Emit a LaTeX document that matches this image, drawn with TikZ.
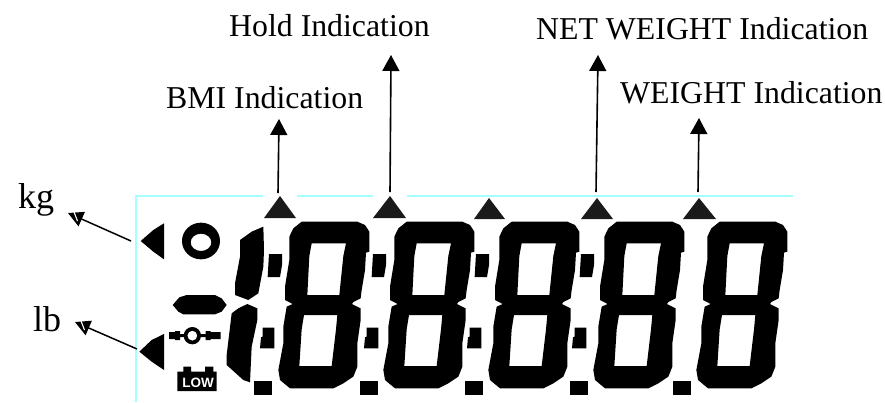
\documentclass[tikz,border=0pt]{standalone}
\usepackage{fontspec}
\setmainfont{Liberation Serif}
\newfontfamily\lowfont{Liberation Sans}
\usetikzlibrary{arrows.meta}
\definecolor{lcdcyan}{HTML}{A6FFFF}
\definecolor{tridark}{HTML}{1A1A1A}
\tikzset{
  lbl/.style={anchor=base west,inner sep=0pt,font=\fontsize{31.8}{36}\selectfont},
  unit/.style={anchor=base west,inner sep=0pt,font=\fontsize{36}{40}\selectfont},
  upline/.style={line width=1.6pt,-{Triangle[length=16pt,width=17pt]}},
  leftline/.style={line width=1.5pt,-{Triangle[length=15pt,width=15.5pt]}},
  notch/.style={white,line width=1.1pt},
  frame/.style={lcdcyan,line width=1.5pt},
  zoomed/.style={x=0.33333pt,y=-0.33333pt},
  tri/.style={fill=tridark,draw=none},
  seg/.style={fill=black,draw=none}
}
\newcommand{\digitshape}[1]{%
\begin{scope}[shift={(120+#1,180)},zoomed]
\fill[seg,even odd rule]
 (545,125)--(712,125)--(735,135)--(748,155)--(748,215)--(738,218)--(735,270)--(725,330)--(722,355)--(700,366)--(696,372)--(722,385)--(722,420)--(712,490)--(712,560)--(700,590)--(670,610)--(640,625)--(510,625)--(480,600)--(475,570)--(490,490)--(490,440)--(500,380)--(518,372)--(495,360)--(495,320)--(508,240)--(508,170)--(520,145)--cycle
 (575,190)--(678,190)--(670,228)--(658,345)--(562,345)--(568,228)--cycle
 (552,405)--(652,405)--(648,448)--(635,558)--(538,558)--(545,448)--cycle;
\end{scope}}
\newcommand{\colonshape}[1]{%
\begin{scope}[shift={(120+#1,180)},zoomed]
\fill[seg] (447,222)--(486,222)--(486,255)--(480,291)--(443,291)--(445,255)--cycle;
\fill[seg] (428,443)--(463,443)--(463,505)--(420,505)--(423,472)--(428,470)--cycle;
\end{scope}}
\newcommand{\dotshape}[1]{\fill[seg] (254+#1,381) rectangle (272+#1,395);}
\begin{document}
\begin{tikzpicture}[x=1pt,y=-1pt]
\useasboundingbox (0,0) rectangle (885,402);
\fill[white] (0,0) rectangle (885,402);
% LCD frame
\draw[frame] (136,402) -- (136,196) -- (263,196);
\draw[frame] (297,196) -- (373,196);
\draw[frame] (407,196) -- (793,196);
% top triangles
\fill[tri] (280,196)--(296,218)--(264,218)--cycle;
\fill[tri] (390,196)--(406,218)--(373,218)--cycle;
\fill[tri] (489,198)--(505,219)--(474,219)--cycle;
\fill[tri] (597,198)--(613,219)--(581,219)--cycle;
\fill[tri] (699,198)--(716,219)--(683,219)--cycle;
% digits
\digitshape{0}\digitshape{105}\digitshape{210}\digitshape{315}\digitshape{418}
\colonshape{0}\colonshape{104}\colonshape{207}\colonshape{312}
\dotshape{0}\dotshape{106}\dotshape{211}\dotshape{316}\dotshape{419}
% leading one and symbols
\begin{scope}[shift={(120,180)},zoomed]
\fill[seg] (430,140)--(432,210)--(430,260)--(415,340)--(385,360)--(345,345)--(345,310)--(360,230)--(360,180)--(395,155)--cycle;
\fill[seg] (382,372)--(412,385)--(412,420)--(395,500)--(390,607)--(370,600)--(320,555)--(320,525)--(335,400)--(355,385)--cycle;
\fill[seg] (62,183)--(100,150)--(132,130)--(132,238)--(100,215)--cycle;
\fill[seg] (58,515)--(95,480)--(132,462)--(132,570)--(95,545)--cycle;
\fill[seg,even odd rule] (243,183) ellipse [x radius=57,y radius=55] (243,187) ellipse [x radius=31,y radius=26];
\fill[seg] (158,375)--(178,352)--(200,345)--(285,345)--(305,355)--(320,375)--(305,395)--(285,403)--(190,403)--(175,395)--cycle;
\end{scope}
\begin{scope}[shift={(160,320)},zoomed]
\fill[seg,even odd rule] (97,47) circle [radius=26] (97,47) circle [radius=15];
\fill[seg] (27,36) rectangle (45,57) (45,33) rectangle (60,60) (60,42) rectangle (72,51);
\fill[seg] (122,42) rectangle (137,51) (137,33) rectangle (152,60) (152,36) rectangle (182,57);
\fill[seg] (52,155) rectangle (170,213) (70,140) rectangle (93,155) (135,140) rectangle (160,155);
\end{scope}
\node[inner sep=0pt,text=white,font=\lowfont\bfseries\fontsize{13.5}{14}\selectfont] (low) at (198,383) {LOW};
% labels
\node[lbl] (hold) at (229,36) {Hold Indication};
\node[lbl] (bmi) at (166,108) {BMI Indication};
\node[lbl] (net) at (536,39) {NET WEIGHT Indication};
\node[lbl] (weight) at (620,103) {WEIGHT Indication};
\node[unit] (kg) at (18,208) {kg};
\node[unit] (lb) at (33,331) {lb};
% connector ends
\coordinate (bmiS) at (278,193); \coordinate (bmiT) at (279,119);
\coordinate (holdS) at (390,192); \coordinate (holdT) at (391,55);
\coordinate (netS) at (596,192); \coordinate (netT) at (598,55);
\coordinate (wS) at (698,192); \coordinate (wT) at (699,118);
\coordinate (kgS) at (131,241); \coordinate (kgT) at (68,213);
\coordinate (lbS) at (137,349); \coordinate (lbT) at (75,322);
\draw[upline] (bmiS) -- (bmiT);
\draw[upline] (holdS) -- (holdT);
\draw[upline] (netS) -- (netT);
\draw[upline] (wS) -- (wT);
\draw[leftline] (kgS) -- (kgT);
\draw[leftline] (lbS) -- (lbT);
% white nicks in the two left arrowheads
\draw[notch] (74,212) -- (77.5,221);
\draw[notch] (81,321) -- (84.5,330);
\end{tikzpicture}
\end{document}
